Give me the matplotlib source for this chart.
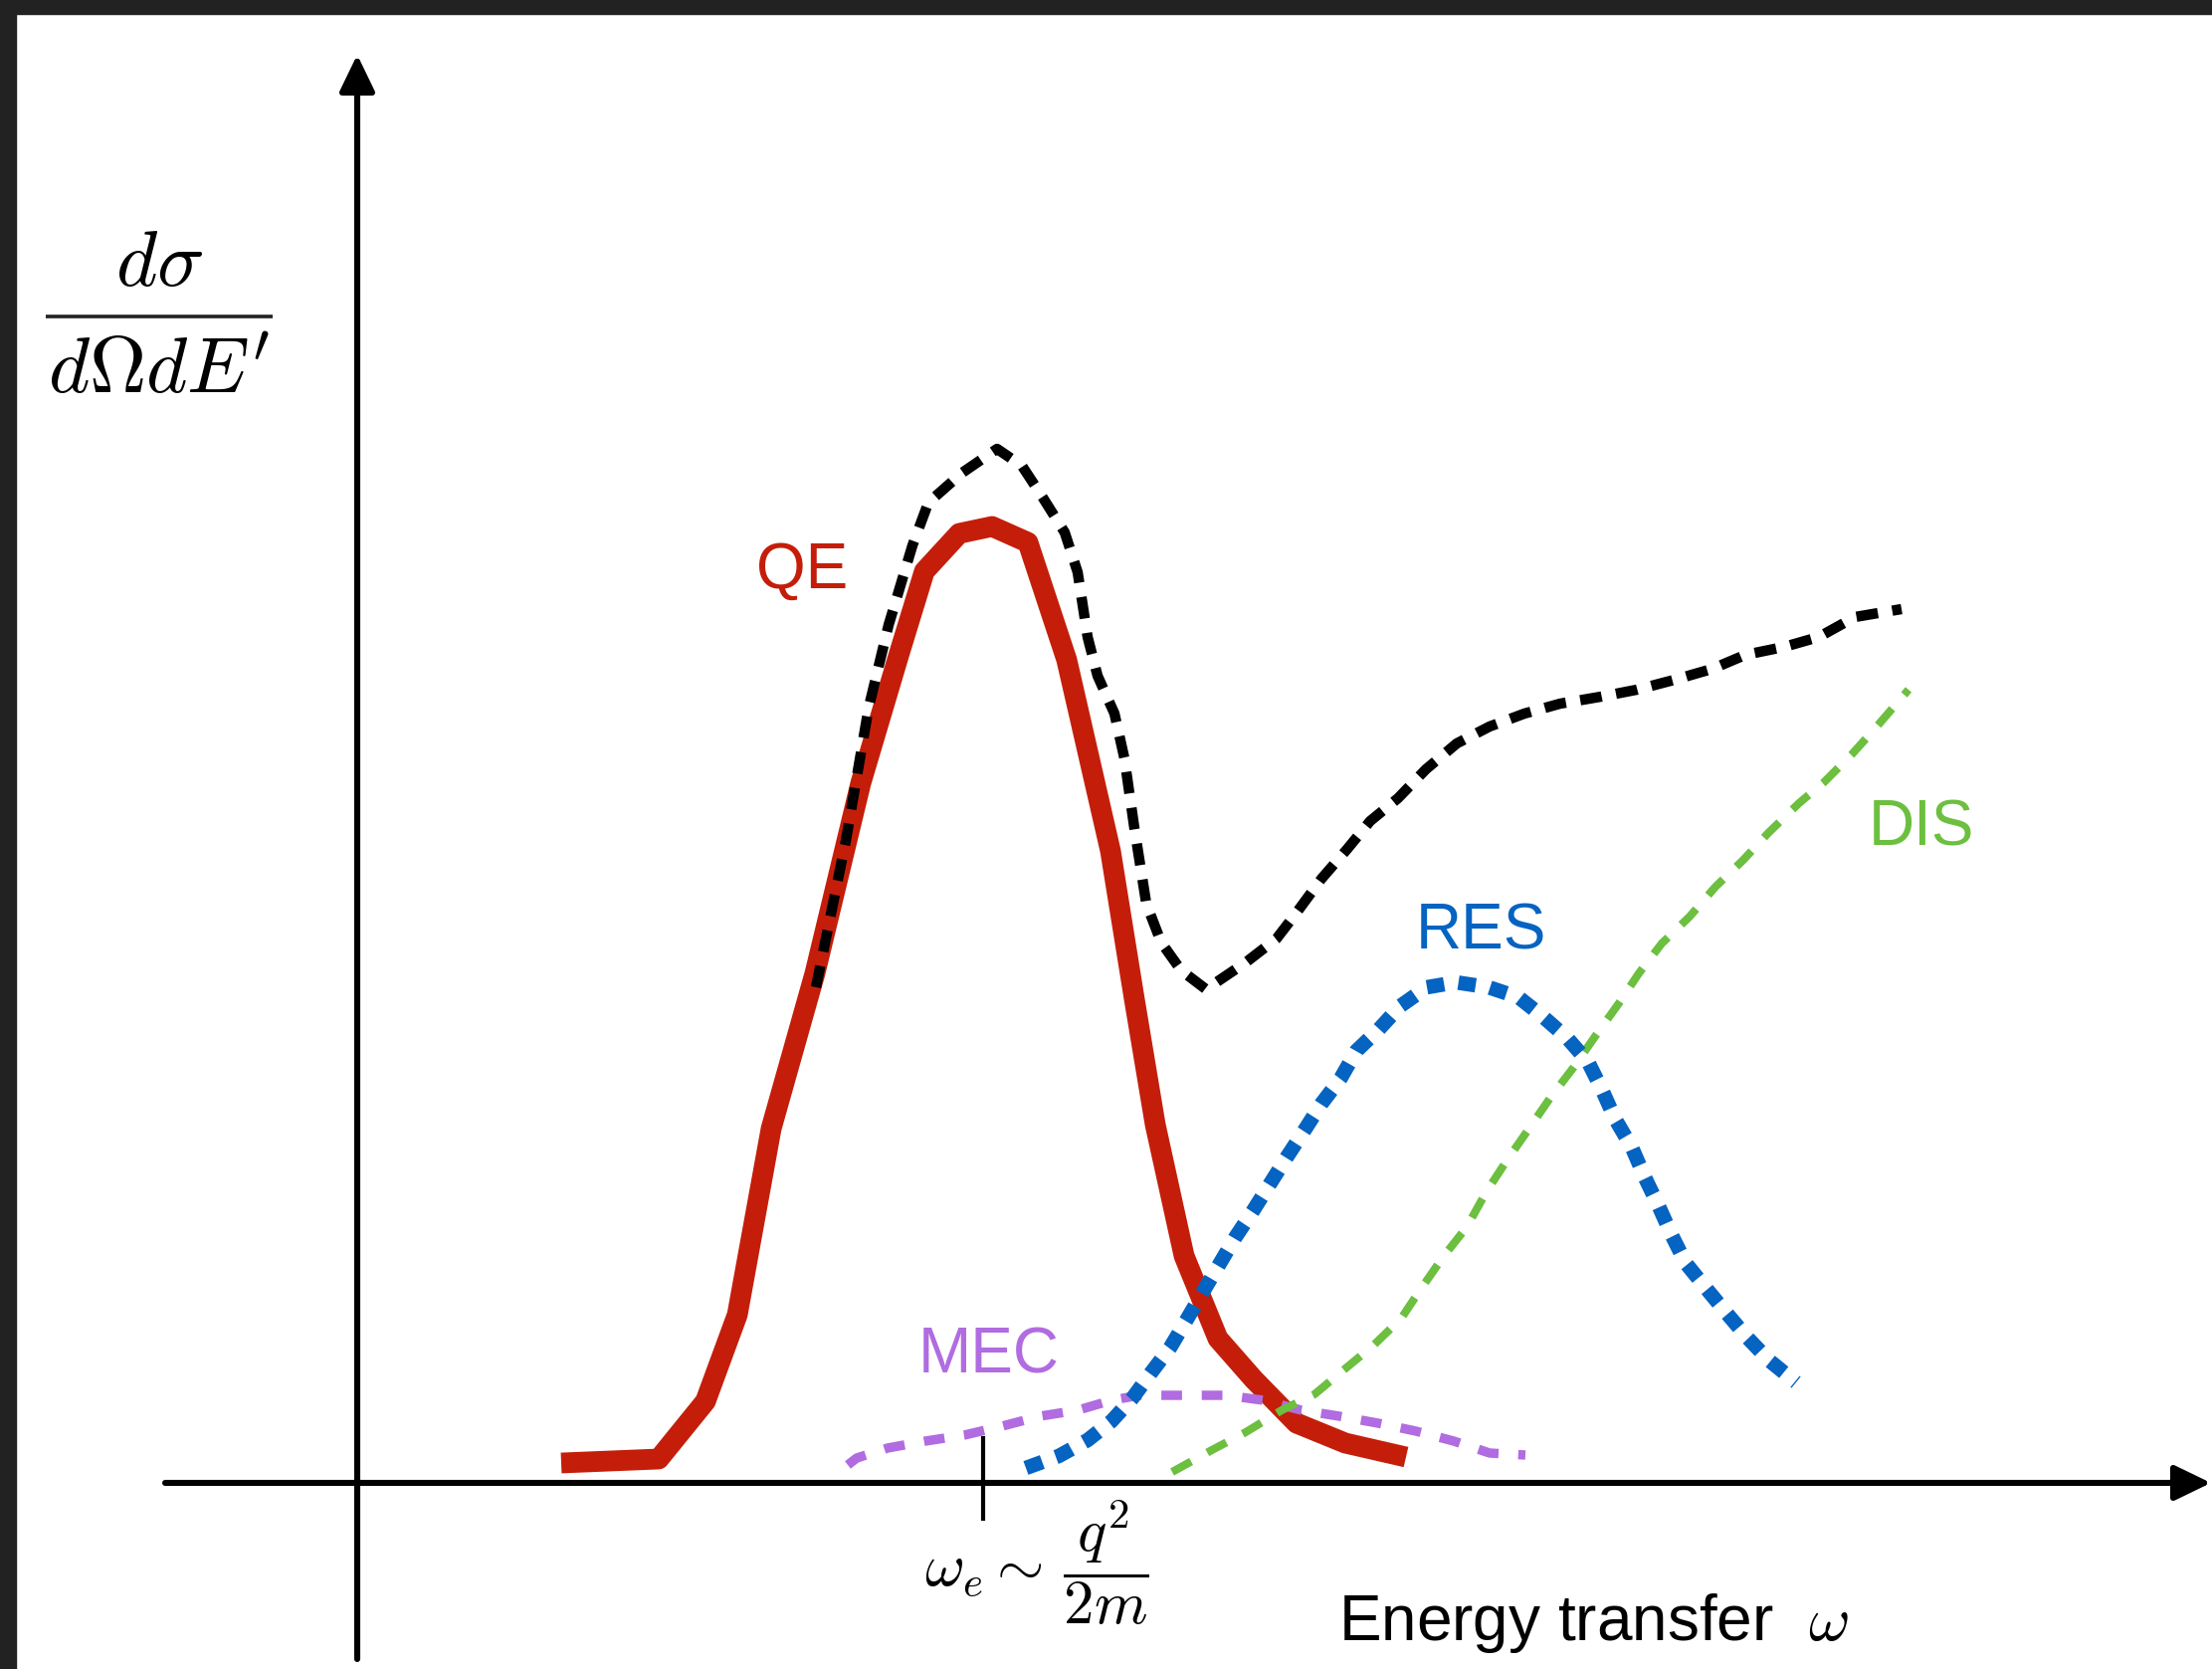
import matplotlib.pyplot as plt
from matplotlib.patches import Rectangle

plt.rcParams['mathtext.fontset'] = 'cm'
plt.rcParams['font.family'] = ['Liberation Sans', 'DejaVu Sans']

# 示意曲线（单位任意，原点 = 坐标轴交点）
qe_w = [2.05, 3.03, 3.50, 3.82, 4.16, 4.60, 5.06, 5.44, 5.70, 6.05, 6.38, 6.74,
        7.13, 7.57, 7.81, 8.02, 8.31, 8.65, 9.01, 9.44, 9.93, 10.54]
qe_s = [0.20, 0.24, 0.82, 1.69, 3.56, 5.12, 7.03, 8.31, 9.16, 9.54, 9.61, 9.45,
        8.27, 6.35, 4.86, 3.60, 2.28, 1.45, 1.04, 0.60, 0.40, 0.26]

tot_w = [4.61, 4.91, 5.14, 5.34, 5.58, 5.74, 6.08, 6.43, 6.68, 6.89, 7.11, 7.24,
         7.34, 7.44, 7.61, 7.71, 7.81, 7.93, 8.08, 8.28, 8.53, 8.93, 9.24, 9.44,
         9.69, 9.95, 10.18, 10.46, 10.74, 11.05, 11.38, 11.73, 12.09, 12.50,
         12.86, 13.24, 13.62, 13.95, 14.34, 14.69, 15.05, 15.52]
tot_s = [4.98, 6.45, 7.79, 8.62, 9.42, 9.85, 10.15, 10.39, 10.22, 9.90, 9.55, 9.15,
         8.50, 8.11, 7.73, 7.28, 6.58, 5.82, 5.43, 5.15, 4.96, 5.23, 5.47, 5.73,
         6.07, 6.37, 6.65, 6.88, 7.17, 7.43, 7.60, 7.73, 7.83, 7.90,
         7.97, 8.07, 8.18, 8.32, 8.40, 8.50, 8.70, 8.78]

res_w = [6.72, 7.05, 7.34, 7.58, 7.79, 7.98, 8.17, 8.33, 8.50, 8.66, 8.82, 9.00,
         9.17, 9.34, 9.53, 9.69, 9.88, 10.04, 10.26, 10.48, 10.75, 11.04, 11.37,
         11.67, 11.91, 12.16, 12.37, 12.51, 12.64, 12.81, 12.94, 13.08, 13.21,
         13.35, 13.56, 13.75, 13.97, 14.19, 14.46]
res_s = [0.15, 0.27, 0.43, 0.62, 0.85, 1.11, 1.36, 1.63, 1.92, 2.19, 2.46, 2.73,
         3.00, 3.27, 3.56, 3.81, 4.06, 4.34, 4.55, 4.79, 4.98, 5.03, 4.98,
         4.88, 4.69, 4.47, 4.23, 3.95, 3.66, 3.37, 3.07, 2.78, 2.49,
         2.21, 1.95, 1.72, 1.46, 1.23, 1.01]

dis_w = [8.19, 8.57, 8.93, 9.29, 9.62, 9.92, 10.21, 10.49, 10.69, 10.92, 11.15,
         11.35, 11.56, 11.79, 11.99, 12.22, 12.45, 12.68, 12.88, 13.11, 13.39,
         13.65, 13.93, 14.18, 14.49, 14.74, 15.02, 15.28, 15.59]
dis_s = [0.11, 0.32, 0.51, 0.73, 0.89, 1.14, 1.38, 1.65, 1.95, 2.28, 2.57,
         2.93, 3.25, 3.58, 3.87, 4.17, 4.50, 4.82, 5.12, 5.42, 5.69,
         5.99, 6.26, 6.53, 6.83, 7.04, 7.32, 7.61, 7.97]

mec_w = [4.93, 5.02, 5.33, 5.71, 6.10, 6.48, 6.86, 7.24, 7.58, 7.86, 8.34, 8.73,
         9.11, 9.49, 9.87, 10.26, 10.64, 11.02, 11.38, 11.74]
mec_s = [0.18, 0.25, 0.35, 0.42, 0.48, 0.57, 0.67, 0.73, 0.83, 0.88, 0.88, 0.88,
         0.83, 0.73, 0.67, 0.60, 0.52, 0.42, 0.30, 0.28]

omega_e = 6.29

fig = plt.figure(figsize=(22.23, 16.77), dpi=100)
ax = fig.add_axes([0, 0, 1, 1])
ax.set_xlim(-3.59, 18.64)
ax.set_ylim(-1.87, 14.90)
ax.axis('off')

# 深色边框（截图边缘）
fig.add_artist(Rectangle((0, 1 - 14 / 1677), 1, 14 / 1677, transform=fig.transFigure,
                         color='#222222', zorder=10))
fig.add_artist(Rectangle((0, 0), 16 / 2223, 1, transform=fig.transFigure,
                         color='#222222', zorder=10))

# 坐标轴箭头
arrow = dict(arrowstyle='-|>,head_length=0.62,head_width=0.3', lw=4.4, color='black',
             mutation_scale=36, shrinkA=0, shrinkB=0)
ax.annotate('', xy=(18.63, 0), xytext=(-1.93, 0), arrowprops=arrow)
ax.annotate('', xy=(0, 14.35), xytext=(0, -1.77), arrowprops=arrow)
ax.plot([omega_e, omega_e], [0.45, -0.36], color='black', lw=3.0)

# 曲线
ax.plot(qe_w, qe_s, color='#c41e0a', lw=15, solid_capstyle='butt', zorder=2)
ax.plot(mec_w, mec_s, color='#b06ce0', lw=6.8, dashes=(2.2, 2.1), zorder=3)
ax.plot(dis_w, dis_s, color='#6cbf3f', lw=5.8, dashes=(2.7, 2.3), zorder=4)
ax.plot(res_w, res_s, color='#0563c1', lw=10.5, dashes=(1.2, 1.0), zorder=5)
ax.plot(tot_w, tot_s, color='black', lw=7.5, dashes=(2.1, 1.4), zorder=6)

# 纵轴标签（手工分式）
ax.text(-1.99, 12.03, r"$d\sigma$", fontsize=57, ha='center', va='baseline')
ax.plot([-3.13, -0.85], [11.72, 11.72], color='#222222', lw=2.6, solid_capstyle='butt')
ax.text(-1.99, 10.95, r"$d\Omega dE'$", fontsize=57, ha='center', va='baseline')

ax.text(6.83, -0.80, r"$\omega_e \sim \,\dfrac{q^2}{2m}$", fontsize=44,
        ha='center', va='center')
ax.text(9.86, -1.58, r"Energy transfer  $\omega$", fontsize=46,
        ha='left', va='baseline')
ax.text(4.01, 8.99, "QE", fontsize=46, color='#c41e0a', ha='left', va='baseline')
ax.text(5.64, 1.11, "MEC", fontsize=46, color='#b06ce0', ha='left', va='baseline')
ax.text(10.64, 5.37, "RES", fontsize=46, color='#0563c1', ha='left', va='baseline')
ax.text(15.19, 6.41, "DIS", fontsize=46, color='#6cbf3f', ha='left', va='baseline')

fig.savefig('out.png', dpi=100, facecolor='white')
